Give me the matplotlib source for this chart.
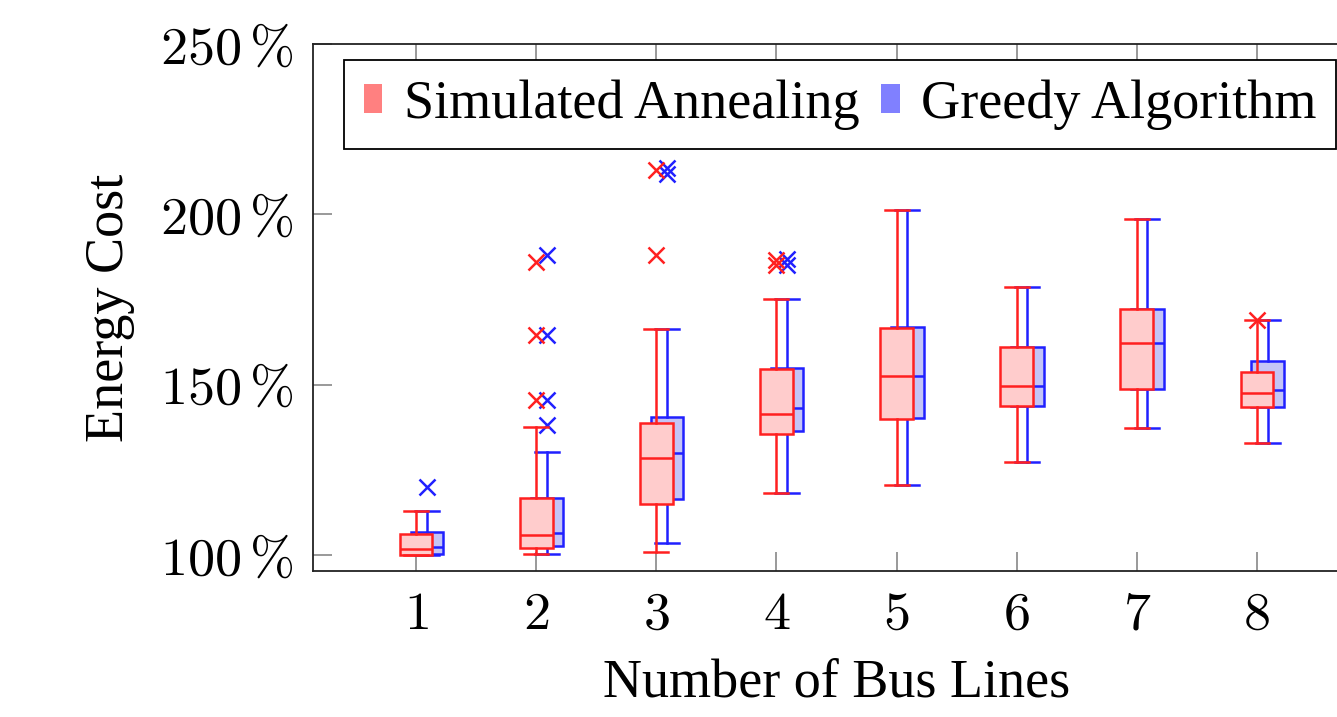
import matplotlib.pyplot as plt
from matplotlib.patches import Patch
from matplotlib.ticker import FuncFormatter

plt.rcParams['mathtext.fontset'] = 'cm'
plt.rcParams['font.family'] = ['Liberation Serif', 'DejaVu Serif']

bus_lines = [1, 2, 3, 4, 5, 6, 7, 8]

# simulated annealing box stats (%)
sa_q1 = [100.0, 102.0, 115.0, 135.5, 139.8, 143.7, 148.7, 143.5]
sa_med = [101.9, 105.9, 128.4, 141.3, 152.6, 149.7, 162.2, 147.5]
sa_q3 = [106.3, 116.6, 138.7, 154.5, 166.6, 161.0, 172.2, 153.8]
sa_lo = [100.0, 100.3, 101.0, 118.3, 120.6, 127.2, 137.2, 133.0]
sa_hi = [113.0, 137.5, 166.3, 175.1, 201.3, 178.8, 198.6, 169.0]
sa_out = [[], [186.1, 164.6, 145.5], [213.0, 188.1], [186.6, 185.1],
          [], [], [], [169.0]]

# greedy algorithm box stats (%)
gr_q1 = [100.3, 102.6, 116.4, 136.4, 140.1, 143.7, 148.7, 143.5]
gr_med = [102.3, 106.4, 129.9, 143.1, 152.6, 149.7, 162.2, 148.4]
gr_q3 = [106.8, 116.6, 140.6, 154.8, 167.0, 161.0, 172.2, 157.0]
gr_lo = [100.0, 100.3, 103.6, 118.3, 120.6, 127.2, 137.2, 133.0]
gr_hi = [113.0, 130.2, 166.3, 175.1, 201.3, 178.8, 198.6, 169.0]
gr_out = [[120.1], [188.1, 164.6, 145.5, 138.2], [213.5, 211.8],
          [186.9, 185.2], [], [], [], []]


def make_stats(q1, med, q3, lo, hi, out):
    stats = []
    for i in range(len(med)):
        stats.append(dict(q1=q1[i], med=med[i], q3=q3[i],
                          whislo=lo[i], whishi=hi[i], fliers=out[i]))
    return stats


def draw(ax, stats, pos, edge, fill, z):
    ax.bxp(stats, positions=pos, widths=0.27, capwidths=0.2,
           patch_artist=True, manage_ticks=False, zorder=z,
           boxprops=dict(facecolor=fill, edgecolor=edge, linewidth=1.8, zorder=z),
           medianprops=dict(color=edge, linewidth=1.8, zorder=z),
           whiskerprops=dict(color=edge, linewidth=1.8, zorder=z),
           capprops=dict(color=edge, linewidth=1.8, zorder=z),
           flierprops=dict(marker='x', markeredgecolor=edge, markersize=11,
                           markeredgewidth=1.8, zorder=z))


fig = plt.figure(figsize=(13.37, 7.17), dpi=100)
ax = fig.add_axes([313 / 1337, 146 / 717, 1047 / 1337, 527 / 717])

gr_pos = [x + 0.09 for x in bus_lines]
draw(ax, make_stats(gr_q1, gr_med, gr_q3, gr_lo, gr_hi, gr_out), gr_pos,
     '#2020ff', '#c4c4f6', 3)
draw(ax, make_stats(sa_q1, sa_med, sa_q3, sa_lo, sa_hi, sa_out), bus_lines,
     '#ff2020', '#ffcccc', 4)

ax.set_xlim(0.14, 8.86)
ax.set_ylim(95.3, 250)
ax.set_xticks(bus_lines)
ax.set_xticklabels(['$%d$' % b for b in bus_lines])
ax.set_yticks([100, 150, 200, 250])
ax.yaxis.set_major_formatter(FuncFormatter(lambda v, p: r'$%d\,\%%$' % v))
ax.tick_params(direction='in', length=14, width=1.2, color='#888888',
               top=True, right=True, labelsize=39, pad=14)
for s in ax.spines.values():
    s.set_linewidth(1.3)
    s.set_color('#222222')

ax.set_xlabel('Number of Bus Lines', fontsize=39, labelpad=12)
ax.set_ylabel('Energy Cost', fontsize=39, labelpad=18)

handles = [Patch(facecolor='#ff8080', edgecolor='none', label='Simulated Annealing'),
           Patch(facecolor='#8080ff', edgecolor='none', label='Greedy Algorithm')]
leg = ax.legend(handles=handles, loc='upper left', bbox_to_anchor=(0.03, 0.97),
                ncol=2, fontsize=39, fancybox=False, framealpha=1,
                edgecolor='black', handlelength=0.34, handleheight=0.42,
                handletextpad=0.4, columnspacing=0.4, borderpad=0.36,
                borderaxespad=0)
leg.get_frame().set_linewidth(1.3)
leg.set_zorder(10)

fig.savefig('out.png', dpi=100)
